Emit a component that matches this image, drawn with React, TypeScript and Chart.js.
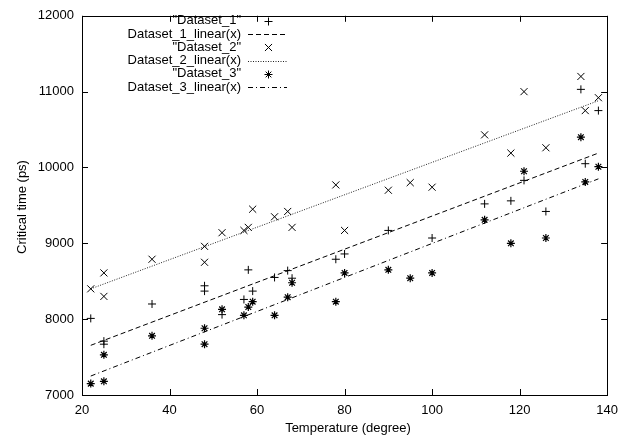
import React, { useEffect, useRef } from 'react';
import { Chart, registerables } from 'chart.js';
Chart.register(...registerables);

const temps1 = [22, 25, 25, 36, 48, 48, 52, 57, 58, 59, 64, 67, 68, 78, 80, 90, 100, 112, 118, 121, 126, 134, 135, 138];
const times1 = [8010, 7710, 7670, 8200, 8440, 8370, 8060, 8260, 8650, 8370, 8550, 8640, 8540, 8790, 8860, 9170, 9070, 9520, 9560, 9830, 9420, 11030, 10050, 10750];
const temps2 = [22, 25, 25, 36, 48, 48, 52, 57, 58, 59, 64, 67, 68, 78, 80, 90, 95, 100, 112, 118, 121, 126, 134, 135, 138];
const times2 = [8400, 8610, 8300, 8790, 8960, 8750, 9140, 9170, 9210, 9450, 9350, 9420, 9210, 9770, 9170, 9700, 9800, 9740, 10430, 10190, 11000, 10260, 11200, 10750, 10920];
const temps3 = [22, 25, 25, 36, 48, 48, 52, 57, 58, 59, 64, 67, 68, 78, 80, 90, 95, 100, 112, 118, 121, 126, 134, 135, 138];
const times3 = [7150, 7180, 7530, 7780, 7880, 7670, 8130, 8050, 8160, 8230, 8050, 8290, 8480, 8230, 8610, 8650, 8540, 8610, 9310, 9000, 9950, 9070, 10400, 9810, 10010];
const fitX = [22, 138];
const fit1 = [7655, 10190];
const fit2 = [8400, 10880];
const fit3 = [7250, 9850];

const legendLabels = ['"Dataset_1"', 'Dataset_1_linear(x)', '"Dataset_2"', 'Dataset_2_linear(x)', '"Dataset_3"', 'Dataset_3_linear(x)'];
const xTitle = 'Temperature (degree)';
const yTitle = 'Critical time (ps)';

const FAMILY = '"Liberation Sans", Arial, sans-serif';
const FSIZE = 13;
const FONT = FSIZE + 'px ' + FAMILY;

const pts = (xs: number[], ys: number[]) => xs.map((x, i) => ({ x, y: ys[i] }));

const dash1 = [5, 3];
const dash2 = [1, 1.5];
const dash3 = [5, 3, 1, 3];

const framePlugin = {
  id: 'gnuFrame',
  afterDraw(chart: any) {
    const { ctx, chartArea: a, scales } = chart;
    const xs = scales.x;
    const ys = scales.y;
    ctx.save();
    ctx.strokeStyle = '#000';
    ctx.lineWidth = 1;
    ctx.setLineDash([]);
    ctx.strokeRect(Math.round(a.left) + 0.5, Math.round(a.top) + 0.5, Math.round(a.right - a.left), Math.round(a.bottom - a.top));
    const tl = 6;
    ctx.beginPath();
    xs.ticks.forEach((t: any) => {
      const p = Math.round(xs.getPixelForValue(t.value)) + 0.5;
      ctx.moveTo(p, a.bottom);
      ctx.lineTo(p, a.bottom - tl);
      ctx.moveTo(p, a.top);
      ctx.lineTo(p, a.top + tl);
    });
    ys.ticks.forEach((t: any) => {
      const p = Math.round(ys.getPixelForValue(t.value)) + 0.5;
      ctx.moveTo(a.left, p);
      ctx.lineTo(a.left + tl, p);
      ctx.moveTo(a.right, p);
      ctx.lineTo(a.right - tl, p);
    });
    ctx.stroke();

    // axis titles
    ctx.fillStyle = '#000';
    ctx.font = FONT;
    ctx.textAlign = 'center';
    ctx.textBaseline = 'middle';
    ctx.fillText(xTitle, 348, 428);
    ctx.save();
    ctx.translate(22, 207);
    ctx.rotate(-Math.PI / 2);
    ctx.fillText(yTitle, 0, 0);
    ctx.restore();

    // legend
    const textRight = 241;
    const sx0 = 248;
    const sx1 = 287;
    const sc = 268.5;
    legendLabels.forEach((lab, i) => {
      const y = 20.7 + 13.3 * i;
      ctx.fillStyle = '#000';
      ctx.textAlign = 'right';
      ctx.fillText(lab, textRight, y);
      const ds = chart.data.datasets[i];
      ctx.strokeStyle = ds.borderColor;
      ctx.lineWidth = 1;
      ctx.beginPath();
      if (i % 2 === 1) {
        ctx.setLineDash(ds.borderDash || []);
        ctx.moveTo(sx0, Math.round(y) + 0.5);
        ctx.lineTo(sx1, Math.round(y) + 0.5);
      } else {
        ctx.setLineDash([]);
        const r = ds.pointRadius;
        const cy = Math.round(y) + 0.5;
        const cx = sc;
        if (ds.pointStyle === 'cross' || ds.pointStyle === 'star') {
          ctx.moveTo(cx - r, cy); ctx.lineTo(cx + r, cy);
          ctx.moveTo(cx, cy - r); ctx.lineTo(cx, cy + r);
        }
        if (ds.pointStyle === 'crossRot' || ds.pointStyle === 'star') {
          const d = r * Math.SQRT1_2;
          ctx.moveTo(cx - d, cy - d); ctx.lineTo(cx + d, cy + d);
          ctx.moveTo(cx - d, cy + d); ctx.lineTo(cx + d, cy - d);
        }
      }
      ctx.stroke();
    });
    ctx.restore();
  },
};

export default function App() {
  const ref = useRef<HTMLCanvasElement | null>(null);
  useEffect(() => {
    if (!ref.current) return;
    const chart = new Chart(ref.current, {
      type: 'scatter',
      data: {
        datasets: [
          { label: legendLabels[0], data: pts(temps1, times1), pointStyle: 'cross', pointRadius: 4, borderColor: '#000', borderWidth: 1, showLine: false },
          { label: legendLabels[1], data: pts(fitX, fit1), showLine: true, pointRadius: 0, borderColor: '#000', borderWidth: 1, borderDash: dash1 },
          { label: legendLabels[2], data: pts(temps2, times2), pointStyle: 'crossRot', pointRadius: 5, borderColor: '#000', borderWidth: 1, showLine: false },
          { label: legendLabels[3], data: pts(fitX, fit2), showLine: true, pointRadius: 0, borderColor: '#222', borderWidth: 1, borderDash: dash2 },
          { label: legendLabels[4], data: pts(temps3, times3), pointStyle: 'star', pointRadius: 4, borderColor: '#000', borderWidth: 1.2, showLine: false },
          { label: legendLabels[5], data: pts(fitX, fit3), showLine: true, pointRadius: 0, borderColor: '#000', borderWidth: 1, borderDash: dash3 },
        ] as any,
      },
      options: {
        animation: false,
        responsive: false,
        devicePixelRatio: 1,
        layout: { padding: { top: 8, right: 13, left: 0, bottom: 0 } },
        plugins: { legend: { display: false }, tooltip: { enabled: false }, title: { display: false } },
        scales: {
          x: {
            type: 'linear', min: 20, max: 140,
            ticks: { stepSize: 20, padding: 8, color: '#000', font: { family: FAMILY, size: FSIZE }, maxRotation: 0, callback: (v: any) => String(v) },
            grid: { display: false, drawTicks: false },
            border: { display: false },
            afterFit: (s: any) => { s.height = 45; },
          },
          y: {
            type: 'linear', min: 7000, max: 12000,
            ticks: { stepSize: 1000, padding: 8, color: '#000', font: { family: FAMILY, size: FSIZE }, callback: (v: any) => String(v) },
            grid: { display: false, drawTicks: false },
            border: { display: false },
            afterFit: (s: any) => { s.width = 82; },
          },
        },
      },
      plugins: [framePlugin],
    });
    return () => chart.destroy();
  }, []);
  return (
    <div style={{ position: 'absolute', left: 0, top: 0, width: 626, height: 440, background: '#fff' }}>
      <canvas ref={ref} width={626} height={440} />
    </div>
  );
}
